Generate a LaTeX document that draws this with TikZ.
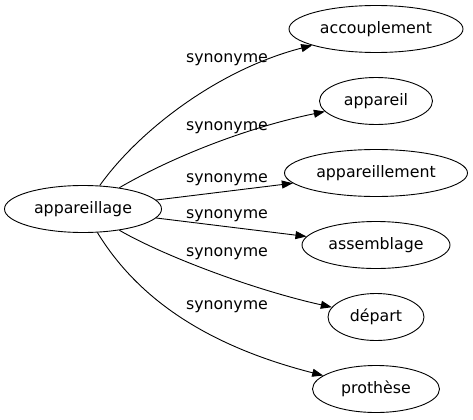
\documentclass[tikz,border=0pt]{standalone}
\usepackage{fontspec}
\setmainfont{DejaVu Sans}
\usetikzlibrary{shapes.geometric, arrows.meta}

\begin{document}
\begin{tikzpicture}[x=1bp, y=1bp,
        word/.style={ellipse, draw, line width=0.9bp, minimum height=47bp, inner sep=0pt,
            font=\fontsize{15.8bp}{19bp}\selectfont},
        syn/.style={inner sep=0pt, font=\fontsize{15.8bp}{19bp}\selectfont},
        link/.style={line width=0.9bp, -{Triangle[length=11bp, width=8bp]}}]
        \useasboundingbox (0,0) rectangle (473,419);
        \node[word, minimum width=157bp] (a) at (83,210) {appareillage};
        \node[word, minimum width=174bp] (b) at (376,390) {accouplement};
        \node[word, minimum width=113bp] (c) at (376,318) {appareil};
        \node[word, minimum width=183bp] (d) at (376,246) {appareillement};
        \node[word, minimum width=148bp] (e) at (376,174) {assemblage};
        \node[word, minimum width=96bp] (f) at (376,102) {départ};
        \node[word, minimum width=127bp] (g) at (376,30) {prothèse};
        \draw[link] (a) .. controls (140,290) and (220,350) .. (b);
        \draw[link] (a) .. controls (165,258) and (240,290) .. (c);
        \draw[link] (a) -- (d);
        \draw[link] (a) -- (e);
        \draw[link] (a) .. controls (160,165) and (250,130) .. (f);
        \draw[link] (a) .. controls (135,125) and (200,75) .. (g);
        \node[syn] (l1) at (227,359) {synonyme};
        \node[syn] (l2) at (227,291) {synonyme};
        \node[syn] (l3) at (227,239) {synonyme};
        \node[syn] (l4) at (227,203) {synonyme};
        \node[syn] (l5) at (227,165) {synonyme};
        \node[syn] (l6) at (227,112) {synonyme};
    \end{tikzpicture}
\end{document}
